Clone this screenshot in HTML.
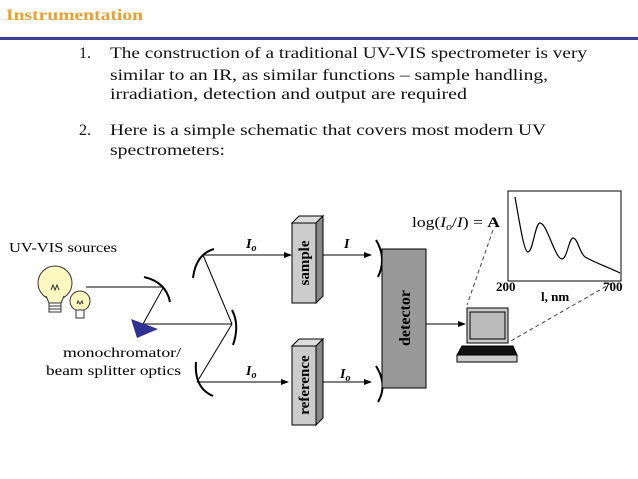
<!DOCTYPE html>
<html><head><meta charset="utf-8"><style>
html,body{margin:0;padding:0;background:#fff;}
body{width:638px;height:479px;overflow:hidden;position:relative;font-family:"Liberation Serif",serif;}
svg{position:absolute;left:0;top:0;}
</style></head><body>
<svg width="638" height="479" viewBox="0 0 638 479" xmlns="http://www.w3.org/2000/svg" font-family="Liberation Serif, serif">
<defs><marker id="ar" markerWidth="8" markerHeight="6" refX="7" refY="3" orient="auto" markerUnits="userSpaceOnUse"><path d="M0,0 L8,3 L0,6 z" fill="#000"/></marker></defs>
<text x="6" y="20" font-size="16" font-weight="bold" fill="#e8a030" textLength="137" lengthAdjust="spacingAndGlyphs">Instrumentation</text>
<rect x="0" y="37" width="638" height="3" fill="#3a3f8f"/>
<g font-size="16" fill="#111">
<text x="79" y="58">1.</text>
<text x="110" y="58" textLength="477" lengthAdjust="spacingAndGlyphs">The construction of a traditional UV-VIS spectrometer is very</text>
<text x="110" y="80" textLength="438" lengthAdjust="spacingAndGlyphs">similar to an IR, as similar functions – sample handling,</text>
<text x="110" y="99" textLength="357" lengthAdjust="spacingAndGlyphs">irradiation, detection and output are required</text>
<text x="79" y="135">2.</text>
<text x="110" y="135" textLength="436" lengthAdjust="spacingAndGlyphs">Here is a simple schematic that covers most modern UV</text>
<text x="110" y="155" textLength="115" lengthAdjust="spacingAndGlyphs">spectrometers:</text>
</g>
<text x="9" y="252" font-size="13.5" textLength="108" lengthAdjust="spacingAndGlyphs">UV-VIS sources</text>
<text x="63" y="357" font-size="13.5" textLength="118" lengthAdjust="spacingAndGlyphs">monochromator/</text>
<text x="46" y="375" font-size="13.5" textLength="135" lengthAdjust="spacingAndGlyphs">beam splitter optics</text>
<!-- bulbs -->
<g stroke="#333" stroke-width="1">
<circle cx="55" cy="283" r="17" fill="#fdf8c0"/>
<path d="M46,296 L49,303 L61,303 L64,296" fill="#fdf8c0"/>
<rect x="49" y="303" width="12" height="9" fill="#fff"/>
<path d="M49,306 h12 M49,309 h12" />
<circle cx="80" cy="301" r="10" fill="#fdf8c0"/>
<rect x="76" y="310" width="8" height="8" fill="#fff"/>
<path d="M51,290 l2,-5 l2,5 l2,-5 l2,5 M77,304 l1,-3 l2,3 l2,-3 l1,3" fill="none"/>
</g>
<g stroke="#000" stroke-width="1" fill="none">
<line x1="86" y1="287" x2="163" y2="287"/>
<path d="M144,277 Q166,282 170,302" stroke-width="2"/>
<line x1="163" y1="288" x2="143" y2="324"/>
<line x1="143" y1="324" x2="232" y2="324"/>
<path d="M232,310 Q240,325 233,345" stroke-width="2"/>
<line x1="232" y1="324" x2="203" y2="255"/>
<line x1="232" y1="324" x2="197" y2="382"/>
<path d="M214,249 Q196,254 193,278" stroke-width="2"/>
<path d="M196,362 Q194,388 213,396" stroke-width="2"/>
<line x1="203" y1="255" x2="291" y2="255" marker-end="url(#ar)"/>
<line x1="197" y1="382" x2="288" y2="382" marker-end="url(#ar)"/>
<line x1="318" y1="255" x2="371" y2="255" marker-end="url(#ar)"/>
<line x1="318" y1="382" x2="371" y2="382" marker-end="url(#ar)"/>
<path d="M376,240 Q387,258 378,277" stroke-width="2"/>
<path d="M376,366 Q388,385 378,402" stroke-width="2"/>
<line x1="426" y1="324" x2="465" y2="324" marker-end="url(#ar)"/>
</g>
<polygon points="131,319 158,329 137,338" fill="#2e3192"/>
<g font-size="14" font-weight="bold" font-style="italic">
<text x="246" y="248">I<tspan font-size="10" dy="3">o</tspan></text>
<text x="246" y="375">I<tspan font-size="10" dy="3">o</tspan></text>
<text x="344" y="248">I</text>
<text x="340" y="378">I<tspan font-size="10" dy="3">o</tspan></text>
</g>
<!-- boxes -->
<g stroke="#000" stroke-width="1">
<polygon points="292,223 299,216 323,216 316,223" fill="#ddd"/>
<polygon points="316,223 323,216 323,296 316,303" fill="#888"/>
<rect x="292" y="223" width="24" height="80" fill="#ccc"/>
<polygon points="292,346 299,339 323,339 316,346" fill="#ddd"/>
<polygon points="316,346 323,339 323,418 316,425" fill="#888"/>
<rect x="292" y="346" width="24" height="79" fill="#ccc"/>
<rect x="382" y="249" width="44" height="139" fill="#999"/>
</g>
<text transform="translate(309,263) rotate(-90)" font-size="15" font-weight="bold" text-anchor="middle">sample</text>
<text transform="translate(309,385) rotate(-90)" font-size="15" font-weight="bold" text-anchor="middle">reference</text>
<text transform="translate(410,318) rotate(-90)" font-size="16" font-weight="bold" text-anchor="middle">detector</text>
<!-- computer -->
<g stroke="#000" stroke-width="1">
<rect x="467" y="308" width="41" height="35" fill="#ccc"/>
<rect x="470" y="312" width="35" height="27" fill="#bbb"/>
<polygon points="462,346 513,346 517,355 457,355" fill="#111"/>
<rect x="457" y="355" width="60" height="7" fill="#ccc"/>
</g>
<!-- graph -->
<rect x="508" y="191" width="113" height="90" fill="#fff" stroke="#000" stroke-width="1"/>
<path d="M515,197 C520,225 524,252 528,252 C533,252 535,223 540,223 C547,223 555,259 562,259 C567,259 569,238 573,238 C578,238 580,256 587,258 C598,264 610,268 620,273" fill="none" stroke="#000" stroke-width="1.2"/>
<g stroke="#444" stroke-dasharray="4,3" stroke-width="1">
<line x1="493" y1="230" x2="467" y2="305"/>
<line x1="612" y1="283" x2="509" y2="342"/>
</g>
<g font-size="13" font-weight="bold">
<text x="496" y="291">200</text>
<text x="603" y="291">700</text>
<text x="541" y="301">l, nm</text>
</g>
<text x="412" y="227" font-size="15" textLength="88" lengthAdjust="spacingAndGlyphs">log(<tspan font-style="italic">I</tspan><tspan font-size="10" font-style="italic" dy="3">o</tspan><tspan dy="-3">/</tspan><tspan font-style="italic">I</tspan>) = <tspan font-weight="bold">A</tspan></text>
</svg>
</body></html>
